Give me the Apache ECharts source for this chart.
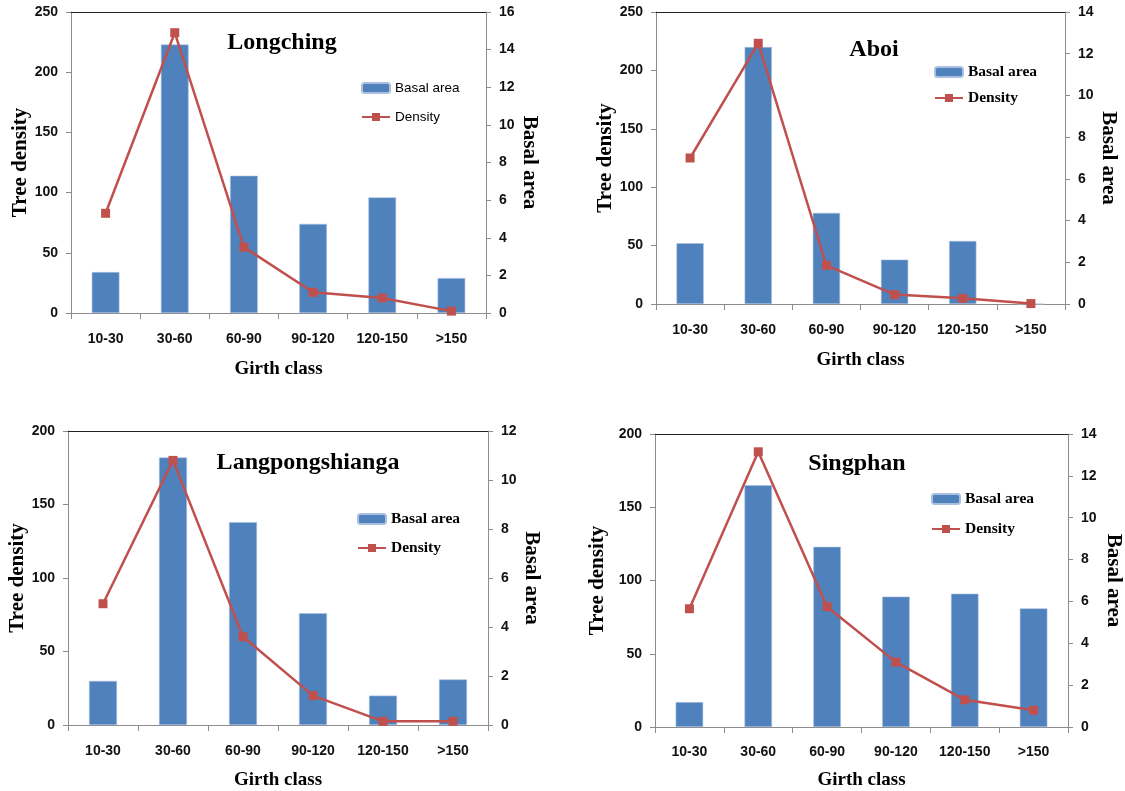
<!DOCTYPE html>
<html>
<head>
<meta charset="utf-8">
<script src="https://cdn.jsdelivr.net/npm/echarts@6/dist/echarts.min.js"></script>
<style>
html,body{margin:0;padding:0;background:#fff;}
#chart{width:1125px;height:791px;}
</style>
</head>
<body>
<div id="chart"></div>
<script>
// ---- data ----
const categories = ['10-30', '30-60', '60-90', '90-120', '120-150', '>150'];
const siteNames = ['Longching', 'Aboi', 'Langpongshianga', 'Singphan'];
const longchingBasal = [34, 223, 114, 74, 96, 29];
const longchingDensity = [5.3, 14.9, 3.5, 1.1, 0.8, 0.1];
const aboiBasal = [52, 220, 78, 38, 54, 0];
const aboiDensity = [7.0, 12.5, 1.85, 0.45, 0.27, 0.02];
const langBasal = [30, 182, 138, 76, 20, 31];
const langDensity = [4.95, 10.8, 3.6, 1.2, 0.15, 0.15];
const singBasal = [17, 165, 123, 89, 91, 81];
const singDensity = [5.65, 13.15, 5.75, 3.1, 1.3, 0.8];
const leftMax = [250, 250, 200, 200];
const leftInterval = [50, 50, 50, 50];
const rightMax = [16, 14, 12, 14];
const rightInterval = [2, 2, 2, 2];
const basalSets = [longchingBasal, aboiBasal, langBasal, singBasal];
const densitySets = [longchingDensity, aboiDensity, langDensity, singDensity];

// ---- layout ----
const SERIF = "'Liberation Serif', 'Times New Roman', serif";
const SANS = "'Liberation Sans', Arial, sans-serif";
const layouts = [
  {grid:{left:71, top:12, width:415, height:301}, title:[277,38], legend:{left:361, top:80, gap:13, sans:true}, gapL:33, gapR:30, gapB:47, lblM:19},
  {grid:{left:656, top:12, width:409, height:292}, title:[869,45], legend:{left:934, top:64, gap:10, sans:false}, gapL:40, gapR:31, gapB:47, lblM:19},
  {grid:{left:68, top:431, width:420, height:296}, title:[303,458], legend:{left:357, top:511, gap:13, sans:false}, gapL:38, gapR:26, gapB:46, lblM:19},
  {grid:{left:655, top:434, width:414, height:293}, title:[852,459], legend:{left:931, top:491, gap:14, sans:false}, gapL:47, gapR:35, gapB:44, lblM:18}
];

const BLUE = '#4F81BD', RED = '#C0504D', AXIS = '#8C8C8C';
const option = {
  backgroundColor: '#fff',
  animation: false,
  title: [], legend: [], grid: [], xAxis: [], yAxis: [], series: []
};

layouts.forEach((L, i) => {
  option.grid.push(Object.assign({containLabel:false}, L.grid));
  option.title.push({
    text: siteNames[i], left: L.title[0], top: L.title[1],
    textAlign: 'center', textVerticalAlign: 'middle',
    textStyle: {fontFamily: SERIF, fontWeight: 'bold', fontSize: 24, color: '#000'}
  });
  option.legend.push({
    data: ['Basal area', 'Density'], orient: 'vertical', selectedMode: false,
    left: L.legend.left, top: L.legend.top, itemGap: L.legend.gap,
    itemWidth: 28, itemHeight: 10, padding: 0,
    textStyle: L.legend.sans
      ? {fontFamily: SANS, fontSize: 13.5, color: '#000', lineHeight: 16}
      : {fontFamily: SERIF, fontWeight: 'bold', fontSize: 15.5, color: '#000', lineHeight: 16}
  });
  // bottom category axis
  option.xAxis.push({
    type: 'category', gridIndex: i, data: categories, position: 'bottom',
    boundaryGap: true,
    name: 'Girth class', nameLocation: 'middle', nameGap: L.gapB,
    nameTextStyle: {fontFamily: SERIF, fontWeight: 'bold', fontSize: 19, color: '#000'},
    axisLine: {onZero: false, lineStyle: {color: AXIS, width: 1}},
    axisTick: {show: true, inside: false, length: 6, alignWithLabel: false, interval: 0, lineStyle: {color: AXIS}},
    axisLabel: {interval: 0, margin: L.lblM, fontFamily: SANS, fontWeight: 'bold', fontSize: 14, color: '#111'},
    splitLine: {show: false}
  });
  // top border line
  option.xAxis.push({
    type: 'category', gridIndex: i, data: categories, position: 'top',
    axisLine: {onZero: false, lineStyle: {color: '#222', width: 1}},
    axisTick: {show: false}, axisLabel: {show: false}, splitLine: {show: false}
  });
  option.yAxis.push({
    type: 'value', gridIndex: i, position: 'left', min: 0, max: leftMax[i], interval: leftInterval[i],
    name: 'Tree density', nameLocation: 'middle', nameGap: L.gapL, nameRotate: 90,
    nameTextStyle: {fontFamily: SERIF, fontWeight: 'bold', fontSize: 21, color: '#000'},
    axisLine: {show: true, onZero: false, lineStyle: {color: AXIS}},
    axisTick: {show: true, length: 5, lineStyle: {color: AXIS}},
    axisLabel: {margin: 13, fontFamily: SANS, fontWeight: 'bold', fontSize: 14, color: '#111'},
    splitLine: {show: false}
  });
  option.yAxis.push({
    type: 'value', gridIndex: i, position: 'right', min: 0, max: rightMax[i], interval: rightInterval[i],
    name: 'Basal area', nameLocation: 'middle', nameGap: L.gapR, nameRotate: -90,
    nameTextStyle: {fontFamily: SERIF, fontWeight: 'bold', fontSize: 21, color: '#000'},
    axisLine: {show: true, onZero: false, lineStyle: {color: AXIS}},
    axisTick: {show: true, length: 5, lineStyle: {color: AXIS}},
    axisLabel: {margin: 13, fontFamily: SANS, fontWeight: 'bold', fontSize: 14, color: '#111'},
    splitLine: {show: false}
  });
  option.series.push({
    name: 'Basal area', type: 'bar', xAxisIndex: 2 * i, yAxisIndex: 2 * i,
    data: basalSets[i], barWidth: '40%',
    itemStyle: {color: BLUE, borderColor: '#A9C0DE', borderWidth: 0.6}, z: 2
  });
  option.series.push({
    name: 'Density', type: 'line', xAxisIndex: 2 * i, yAxisIndex: 2 * i + 1,
    data: densitySets[i], symbol: 'rect', symbolSize: 9, showSymbol: true,
    lineStyle: {color: RED, width: 2.5}, itemStyle: {color: RED}, z: 3
  });
});

const chart = echarts.init(document.getElementById('chart'), null, {renderer: 'canvas'});
chart.setOption(option);
</script>
</body>
</html>
